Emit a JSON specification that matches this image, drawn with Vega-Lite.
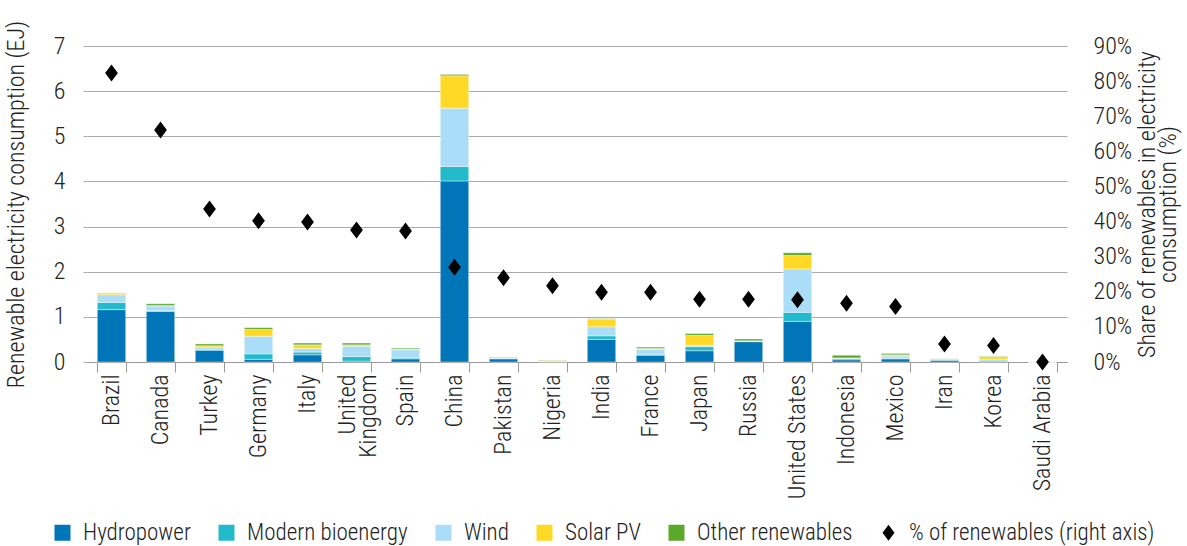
{
  "$schema": "https://vega.github.io/schema/vega-lite/v6.json",
  "width": 980,
  "height": 316,
  "padding": {"left": 87, "top": 46, "right": 120, "bottom": 184},
  "autosize": {"type": "none"},
  "config": {
    "font": "Roboto Condensed, Liberation Sans Narrow, Roboto",
    "view": {"stroke": null},
    "axis": {"labelColor": "#222", "titleColor": "#222", "titleFontWeight": 300, "labelFontWeight": 300}
  },
  "datasets": {
    "bars": [
      {"country": "Brazil", "series": "Hydropower", "value": 1.16},
      {"country": "Brazil", "series": "Modern bioenergy", "value": 0.16},
      {"country": "Brazil", "series": "Wind", "value": 0.17},
      {"country": "Brazil", "series": "Solar PV", "value": 0.03},
      {"country": "Brazil", "series": "Other renewables", "value": 0.01},
      {"country": "Canada", "series": "Hydropower", "value": 1.12},
      {"country": "Canada", "series": "Modern bioenergy", "value": 0.02},
      {"country": "Canada", "series": "Wind", "value": 0.1},
      {"country": "Canada", "series": "Solar PV", "value": 0.01},
      {"country": "Canada", "series": "Other renewables", "value": 0.04},
      {"country": "Turkey", "series": "Hydropower", "value": 0.26},
      {"country": "Turkey", "series": "Modern bioenergy", "value": 0.02},
      {"country": "Turkey", "series": "Wind", "value": 0.05},
      {"country": "Turkey", "series": "Solar PV", "value": 0.03},
      {"country": "Turkey", "series": "Other renewables", "value": 0.04},
      {"country": "Germany", "series": "Hydropower", "value": 0.06},
      {"country": "Germany", "series": "Modern bioenergy", "value": 0.12},
      {"country": "Germany", "series": "Wind", "value": 0.39},
      {"country": "Germany", "series": "Solar PV", "value": 0.15},
      {"country": "Germany", "series": "Other renewables", "value": 0.04},
      {"country": "Italy", "series": "Hydropower", "value": 0.16},
      {"country": "Italy", "series": "Modern bioenergy", "value": 0.06},
      {"country": "Italy", "series": "Wind", "value": 0.08},
      {"country": "Italy", "series": "Solar PV", "value": 0.08},
      {"country": "Italy", "series": "Other renewables", "value": 0.04},
      {"country": "United Kingdom", "series": "Hydropower", "value": 0.02},
      {"country": "United Kingdom", "series": "Modern bioenergy", "value": 0.1},
      {"country": "United Kingdom", "series": "Wind", "value": 0.23},
      {"country": "United Kingdom", "series": "Solar PV", "value": 0.03},
      {"country": "United Kingdom", "series": "Other renewables", "value": 0.04},
      {"country": "Spain", "series": "Hydropower", "value": 0.07},
      {"country": "Spain", "series": "Modern bioenergy", "value": 0.02},
      {"country": "Spain", "series": "Wind", "value": 0.18},
      {"country": "Spain", "series": "Solar PV", "value": 0.02},
      {"country": "Spain", "series": "Other renewables", "value": 0.02},
      {"country": "China", "series": "Hydropower", "value": 4.01},
      {"country": "China", "series": "Modern bioenergy", "value": 0.32},
      {"country": "China", "series": "Wind", "value": 1.29},
      {"country": "China", "series": "Solar PV", "value": 0.72},
      {"country": "China", "series": "Other renewables", "value": 0.03},
      {"country": "Pakistan", "series": "Hydropower", "value": 0.07},
      {"country": "Pakistan", "series": "Modern bioenergy", "value": 0.01},
      {"country": "Pakistan", "series": "Wind", "value": 0.01},
      {"country": "Pakistan", "series": "Solar PV", "value": 0.01},
      {"country": "Pakistan", "series": "Other renewables", "value": 0.01},
      {"country": "Nigeria", "series": "Hydropower", "value": 0.01},
      {"country": "Nigeria", "series": "Modern bioenergy", "value": 0.0},
      {"country": "Nigeria", "series": "Wind", "value": 0.0},
      {"country": "Nigeria", "series": "Solar PV", "value": 0.02},
      {"country": "Nigeria", "series": "Other renewables", "value": 0.01},
      {"country": "India", "series": "Hydropower", "value": 0.5},
      {"country": "India", "series": "Modern bioenergy", "value": 0.08},
      {"country": "India", "series": "Wind", "value": 0.2},
      {"country": "India", "series": "Solar PV", "value": 0.17},
      {"country": "India", "series": "Other renewables", "value": 0.01},
      {"country": "France", "series": "Hydropower", "value": 0.15},
      {"country": "France", "series": "Modern bioenergy", "value": 0.02},
      {"country": "France", "series": "Wind", "value": 0.11},
      {"country": "France", "series": "Solar PV", "value": 0.02},
      {"country": "France", "series": "Other renewables", "value": 0.03},
      {"country": "Japan", "series": "Hydropower", "value": 0.25},
      {"country": "Japan", "series": "Modern bioenergy", "value": 0.09},
      {"country": "Japan", "series": "Wind", "value": 0.03},
      {"country": "Japan", "series": "Solar PV", "value": 0.22},
      {"country": "Japan", "series": "Other renewables", "value": 0.04},
      {"country": "Russia", "series": "Hydropower", "value": 0.45},
      {"country": "Russia", "series": "Modern bioenergy", "value": 0.01},
      {"country": "Russia", "series": "Wind", "value": 0.005},
      {"country": "Russia", "series": "Solar PV", "value": 0.005},
      {"country": "Russia", "series": "Other renewables", "value": 0.04},
      {"country": "United States", "series": "Hydropower", "value": 0.9},
      {"country": "United States", "series": "Modern bioenergy", "value": 0.2},
      {"country": "United States", "series": "Wind", "value": 0.96},
      {"country": "United States", "series": "Solar PV", "value": 0.3},
      {"country": "United States", "series": "Other renewables", "value": 0.06},
      {"country": "Indonesia", "series": "Hydropower", "value": 0.05},
      {"country": "Indonesia", "series": "Modern bioenergy", "value": 0.03},
      {"country": "Indonesia", "series": "Wind", "value": 0.005},
      {"country": "Indonesia", "series": "Solar PV", "value": 0.005},
      {"country": "Indonesia", "series": "Other renewables", "value": 0.06},
      {"country": "Mexico", "series": "Hydropower", "value": 0.07},
      {"country": "Mexico", "series": "Modern bioenergy", "value": 0.01},
      {"country": "Mexico", "series": "Wind", "value": 0.05},
      {"country": "Mexico", "series": "Solar PV", "value": 0.03},
      {"country": "Mexico", "series": "Other renewables", "value": 0.03},
      {"country": "Iran", "series": "Hydropower", "value": 0.04},
      {"country": "Iran", "series": "Modern bioenergy", "value": 0.005},
      {"country": "Iran", "series": "Wind", "value": 0.01},
      {"country": "Iran", "series": "Solar PV", "value": 0.005},
      {"country": "Iran", "series": "Other renewables", "value": 0.01},
      {"country": "Korea", "series": "Hydropower", "value": 0.01},
      {"country": "Korea", "series": "Modern bioenergy", "value": 0.03},
      {"country": "Korea", "series": "Wind", "value": 0.01},
      {"country": "Korea", "series": "Solar PV", "value": 0.05},
      {"country": "Korea", "series": "Other renewables", "value": 0.02},
      {"country": "Saudi Arabia", "series": "Hydropower", "value": 0.0},
      {"country": "Saudi Arabia", "series": "Modern bioenergy", "value": 0.0},
      {"country": "Saudi Arabia", "series": "Wind", "value": 0.0},
      {"country": "Saudi Arabia", "series": "Solar PV", "value": 0.006},
      {"country": "Saudi Arabia", "series": "Other renewables", "value": 0.0}
    ],
    "share": [
      {"country": "Brazil", "series": "% of renewables (right axis)", "share": 0.823},
      {"country": "Canada", "series": "% of renewables (right axis)", "share": 0.661},
      {"country": "Turkey", "series": "% of renewables (right axis)", "share": 0.436},
      {"country": "Germany", "series": "% of renewables (right axis)", "share": 0.402},
      {"country": "Italy", "series": "% of renewables (right axis)", "share": 0.399},
      {"country": "United Kingdom", "series": "% of renewables (right axis)", "share": 0.376},
      {"country": "Spain", "series": "% of renewables (right axis)", "share": 0.373},
      {"country": "China", "series": "% of renewables (right axis)", "share": 0.27},
      {"country": "Pakistan", "series": "% of renewables (right axis)", "share": 0.24},
      {"country": "Nigeria", "series": "% of renewables (right axis)", "share": 0.217},
      {"country": "India", "series": "% of renewables (right axis)", "share": 0.199},
      {"country": "France", "series": "% of renewables (right axis)", "share": 0.199},
      {"country": "Japan", "series": "% of renewables (right axis)", "share": 0.179},
      {"country": "Russia", "series": "% of renewables (right axis)", "share": 0.179},
      {"country": "United States", "series": "% of renewables (right axis)", "share": 0.177},
      {"country": "Indonesia", "series": "% of renewables (right axis)", "share": 0.167},
      {"country": "Mexico", "series": "% of renewables (right axis)", "share": 0.158},
      {"country": "Iran", "series": "% of renewables (right axis)", "share": 0.051},
      {"country": "Korea", "series": "% of renewables (right axis)", "share": 0.047},
      {"country": "Saudi Arabia", "series": "% of renewables (right axis)", "share": 0.0}
    ]
  },
  "layer": [
    {
      "data": {"name": "bars"},
      "transform": [
        {"calculate": "indexof(['Hydropower','Modern bioenergy','Wind','Solar PV','Other renewables'], datum.series)", "as": "ord"}
      ],
      "mark": {"type": "bar", "stroke": "#ffffff", "strokeWidth": 0.4},
      "encoding": {
        "x": {
          "field": "country", "type": "nominal",
          "scale": {
            "domain": ["Brazil","Canada","Turkey","Germany","Italy","United Kingdom","Spain","China","Pakistan","Nigeria","India","France","Japan","Russia","United States","Indonesia","Mexico","Iran","Korea","Saudi Arabia"],
            "paddingInner": 0.42, "paddingOuter": 0.21
          },
          "axis": {
            "title": null, "labelAngle": -90, "labelFontSize": 24, "labelPadding": 2, "labelLineHeight": 21,
            "ticks": true, "tickBand": "extent", "tickSize": 10, "tickColor": "#999", "domainColor": "#999",
            "labelExpr": "datum.value == 'United Kingdom' ? ['United','Kingdom'] : datum.value",
            "labelOffset": {"condition": {"test": "datum.value == 'United Kingdom'", "value": -9}, "value": 0}
          }
        },
        "y": {
          "field": "value", "type": "quantitative", "stack": "zero",
          "scale": {"domain": [0, 7], "nice": false},
          "axis": {
            "title": "Renewable electricity consumption (EJ)", "titleFontSize": 24, "titlePadding": 25,
            "values": [0,1,2,3,4,5,6,7], "labelFontSize": 24, "labelPadding": 18,
            "grid": true, "gridColor": "#aaa", "domain": false, "tickSize": 4, "tickColor": "#aaa"
          }
        },
        "color": {
          "field": "series", "type": "nominal",
          "scale": {
            "domain": ["Hydropower","Modern bioenergy","Wind","Solar PV","Other renewables","% of renewables (right axis)"],
            "range": ["#0076B9","#23BACB","#ABDDF8","#FFD926","#5BA92B","#000000"]
          },
          "legend": {
            "title": null, "orient": "none", "direction": "horizontal", "legendX": -36, "legendY": 475,
            "labelFontSize": 23, "labelFontWeight": 300, "symbolSize": 256, "symbolType": "square", "columnPadding": 24,
            "symbolStrokeWidth": 0, "labelOffset": 9, "labelLimit": 0, "labelColor": "#222"
          }
        },
        "order": {"field": "ord", "type": "quantitative"}
      }
    },
    {
      "data": {"name": "share"},
      "mark": {"type": "point", "filled": true, "size": 289, "opacity": 1, "strokeWidth": 0},
      "encoding": {
        "x": {"field": "country", "type": "nominal"},
        "y": {
          "field": "share", "type": "quantitative",
          "scale": {"domain": [0, 0.9], "nice": false},
          "axis": {
            "orient": "right", "format": ".0%", "values": [0,0.1,0.2,0.3,0.4,0.5,0.6,0.7,0.8,0.9],
            "labelFontSize": 24, "labelPadding": 26, "ticks": false, "domain": false, "grid": false,
            "title": ["Share of renewables in electricity", "consumption (%)"], "titleFontSize": 24, "titlePadding": 7,
            "titleLineHeight": 21, "titleAngle": 270
          }
        },
        "color": {"field": "series", "type": "nominal"},
        "shape": {
          "field": "series", "type": "nominal",
          "scale": {
            "domain": ["Hydropower","Modern bioenergy","Wind","Solar PV","Other renewables","% of renewables (right axis)"],
            "range": ["square","square","square","square","square","M -0.75 0 L 0 -1 L 0.75 0 L 0 1 Z"]
          },
          "legend": {
            "title": null, "orient": "none", "direction": "horizontal", "legendX": -36, "legendY": 475,
            "labelFontSize": 23, "labelFontWeight": 300, "symbolSize": 256, "columnPadding": 24,
            "symbolStrokeWidth": 0, "labelOffset": 9, "labelLimit": 0, "labelColor": "#222"
          }
        }
      }
    }
  ],
  "resolve": {"scale": {"y": "independent"}}
}
